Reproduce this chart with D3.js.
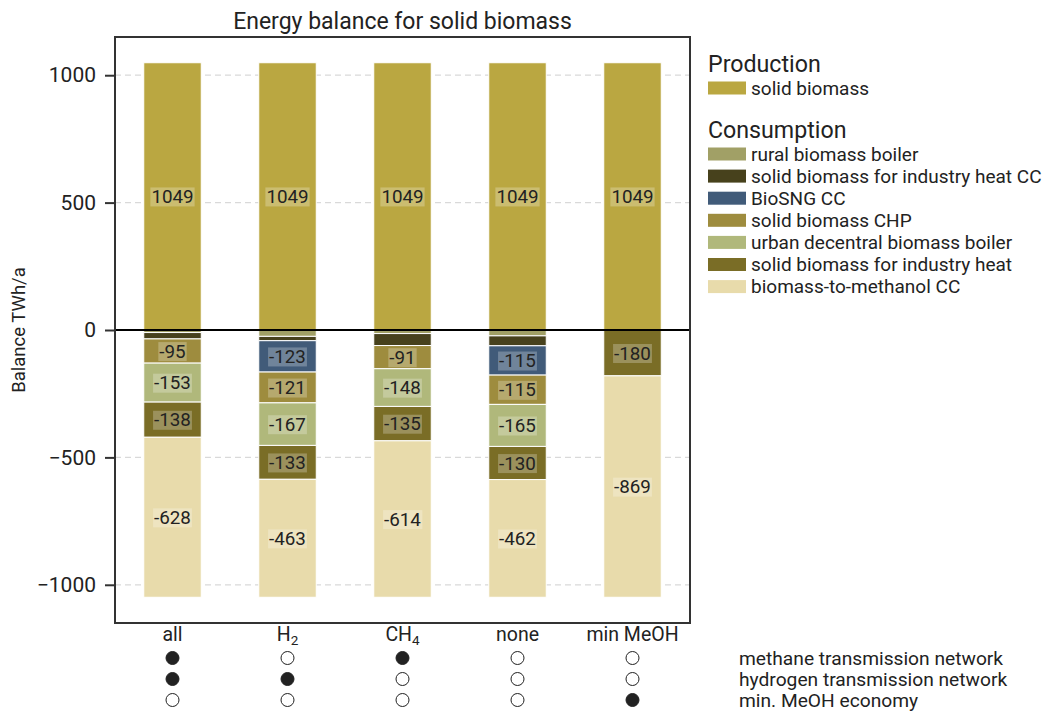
<!DOCTYPE html>
<html>
<head>
<meta charset="utf-8">
<script src="https://cdn.jsdelivr.net/npm/d3@7"></script>
<style>
  body { margin: 0; background: #fff; }
  svg { font-family: Roboto, "Noto Sans", sans-serif; }
</style>
</head>
<body>
<svg id="chart" width="1050" height="711"></svg>
<script>
// ---- data ----
const categories = ["all", "H2", "CH4", "none", "min MeOH"];
const solidBiomass = [1049, 1049, 1049, 1049, 1049];
const ruralBiomassBoiler = [-10, -25, -14, -23, 0];
const industryHeatCC = [-25, -17, -47, -39, 0];
const bioSNGCC = [0, -123, 0, -115, 0];
const solidBiomassCHP = [-95, -121, -91, -115, 0];
const urbanDecentralBoiler = [-153, -167, -148, -165, 0];
const industryHeat = [-138, -133, -135, -130, -180];
const biomassToMethanol = [-628, -463, -614, -462, -869];
const yTicks = [-1000, -500, 0, 500, 1000];
const methaneNetwork = [1, 0, 1, 0, 0];
const hydrogenNetwork = [1, 1, 0, 0, 0];
const minMeOH = [0, 0, 0, 0, 1];

const series = [
  { name: "solid biomass", values: solidBiomass, color: "#baa741", group: "Production" },
  { name: "rural biomass boiler", values: ruralBiomassBoiler, color: "#a1a066", group: "Consumption" },
  { name: "solid biomass for industry heat CC", values: industryHeatCC, color: "#47411c", group: "Consumption" },
  { name: "BioSNG CC", values: bioSNGCC, color: "#415b79", group: "Consumption" },
  { name: "solid biomass CHP", values: solidBiomassCHP, color: "#9e8c3e", group: "Consumption" },
  { name: "urban decentral biomass boiler", values: urbanDecentralBoiler, color: "#b0b87b", group: "Consumption" },
  { name: "solid biomass for industry heat", values: industryHeat, color: "#7a6d26", group: "Consumption" },
  { name: "biomass-to-methanol CC", values: biomassToMethanol, color: "#e8dbab", group: "Consumption" }
];
const indicatorRows = [
  { name: "methane transmission network", values: methaneNetwork },
  { name: "hydrogen transmission network", values: hydrogenNetwork },
  { name: "min. MeOH economy", values: minMeOH }
];

// ---- layout ----
const svg = d3.select("#chart");
const pL = 115, pR = 690, pT = 37, pB = 623;

const x = d3.scaleBand().domain(categories).range([pL, pR]).paddingInner(0.5).paddingOuter(0.25);
const y = d3.scaleLinear().domain([-1150, 1150]).range([pB, pT]);

// grid
svg.append("g").selectAll("line").data(yTicks.filter(d => d !== 0)).join("line")
  .attr("x1", pL).attr("x2", pR)
  .attr("y1", d => y(d)).attr("y2", d => y(d))
  .attr("stroke", "#d9d9d9").attr("stroke-width", 1.3).attr("stroke-dasharray", "6,4");

// stacked bars
const segs = [];
categories.forEach((c, i) => {
  let pos = 0, neg = 0;
  series.forEach(s => {
    const v = s.values[i];
    if (v === 0) return;
    let y0, y1;
    if (v > 0) { y0 = pos; y1 = pos + v; pos = y1; }
    else { y0 = neg; y1 = neg + v; neg = y1; }
    segs.push({ cat: c, v, y0, y1, color: s.color });
  });
});

const barG = svg.append("g");
barG.selectAll("rect").data(segs).join("rect")
  .attr("x", d => x(d.cat))
  .attr("width", x.bandwidth())
  .attr("y", d => y(Math.max(d.y0, d.y1)))
  .attr("height", d => Math.abs(y(d.y0) - y(d.y1)))
  .attr("fill", d => d.color)
  .attr("stroke", "#fff").attr("stroke-width", 1);

// labels
const labG = svg.append("g");
segs.filter(d => Math.abs(d.v) >= 60).forEach(d => {
  const cx = x(d.cat) + x.bandwidth() / 2;
  const cy = y((d.y0 + d.y1) / 2);
  const g = labG.append("g");
  const t = g.append("text").attr("x", cx).attr("y", cy).attr("dy", "0.35em")
    .attr("text-anchor", "middle").attr("font-size", 18.8).attr("fill", "#222")
    .text(d.v);
  const bb = t.node().getBBox();
  g.insert("rect", "text").attr("x", bb.x - 1).attr("y", bb.y + 1.5).attr("width", bb.width + 2).attr("height", bb.height - 3)
    .attr("fill", "#fff").attr("fill-opacity", 0.25);
});

// zero line
svg.append("line").attr("x1", pL).attr("x2", pR).attr("y1", y(0)).attr("y2", y(0))
  .attr("stroke", "#000").attr("stroke-width", 2.2);

// frame
svg.append("rect").attr("x", pL).attr("y", pT).attr("width", pR - pL).attr("height", pB - pT)
  .attr("fill", "none").attr("stroke", "#333").attr("stroke-width", 2);

// y axis
const yAxis = svg.append("g").attr("transform", `translate(${pL},0)`)
  .call(d3.axisLeft(y).tickValues(yTicks).tickSize(10).tickPadding(9).tickFormat(d => d < 0 ? "\u2212" + Math.abs(d) : d));
yAxis.select(".domain").remove();
yAxis.selectAll(".tick line").attr("stroke", "#333").attr("stroke-width", 2);
yAxis.selectAll(".tick text").attr("font-size", 21).attr("fill", "#222").attr("font-family", "Roboto");

svg.append("text").attr("transform", `translate(25,${(pT + pB) / 2}) rotate(-90)`)
  .attr("text-anchor", "middle").attr("font-size", 18.5).attr("fill", "#222").text("Balance TWh/a");

// title
svg.append("text").attr("x", (pL + pR) / 2).attr("y", 29).attr("text-anchor", "middle")
  .attr("font-size", 23).attr("fill", "#222").text("Energy balance for solid biomass");

// x labels with subscripts
const xl = svg.append("g");
categories.forEach(c => {
  const t = xl.append("text").attr("x", x(c) + x.bandwidth() / 2).attr("y", 641)
    .attr("text-anchor", "middle").attr("font-size", 19.5).attr("fill", "#222");
  const m = c.match(/^([A-Z]+)(\d)$/);
  if (m) {
    t.append("tspan").text(m[1]);
    t.append("tspan").attr("font-size", 13.5).attr("dy", 4).text(m[2]);
  } else t.text(c);
});

// indicator circles
const rowY = [658, 679, 700];
indicatorRows.forEach((r, ri) => {
  svg.append("g").selectAll("circle").data(categories).join("circle")
    .attr("cx", c => x(c) + x.bandwidth() / 2).attr("cy", rowY[ri]).attr("r", 6.5)
    .attr("fill", (c, i) => r.values[i] ? "#222" : "#fff")
    .attr("stroke", "#222").attr("stroke-width", 1);
  svg.append("text").attr("x", 739).attr("y", rowY[ri]).attr("dy", "0.35em")
    .attr("font-size", 19.2).attr("fill", "#222").text(r.name);
});

// legend
const lg = svg.append("g");
const lx = 708;
lg.append("text").attr("x", lx).attr("y", 72).attr("font-size", 23.2).attr("fill", "#222").text("Production");
const legendItems = [];
let ly = 88;
series.filter(s => s.group === "Production").forEach(s => { legendItems.push({ s, y: ly }); });
lg.append("text").attr("x", lx).attr("y", 138).attr("font-size", 23.2).attr("fill", "#222").text("Consumption");
ly = 154;
series.filter(s => s.group === "Consumption").forEach(s => { legendItems.push({ s, y: ly }); ly += 22.1; });
legendItems.forEach(it => {
  lg.append("rect").attr("x", lx).attr("y", it.y - 6.5).attr("width", 38).attr("height", 13).attr("fill", it.s.color);
  lg.append("text").attr("x", lx + 43).attr("y", it.y).attr("dy", "0.35em")
    .attr("font-size", 19).attr("fill", "#222").text(it.s.name);
});
</script>
</body>
</html>
